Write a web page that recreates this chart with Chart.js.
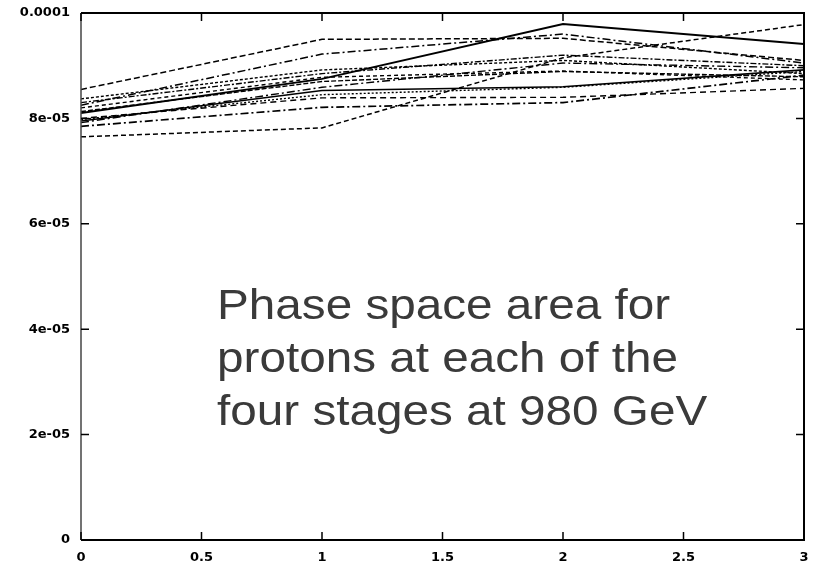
<!DOCTYPE html>
<html>
<head>
<meta charset="utf-8">
<script src="https://cdn.jsdelivr.net/npm/chart.js@4/dist/chart.umd.min.js"></script>
<style>
html,body{margin:0;padding:0;background:#fff;}
#wrap{width:825px;height:564px;position:relative;}
</style>
</head>
<body>
<div id="wrap"><canvas id="c" width="825" height="564"></canvas></div>
<script>
// x positions (stages)
const stages = [0, 1, 2, 3];
// tick labels
const xTickLabels = ["0", "0.5", "1", "1.5", "2", "2.5", "3"];
const yTickLabels = ["0", "2e-05", "4e-05", "6e-05", "8e-05", "0.0001"];
// series values (phase space area)
const s1 = [8.55e-5, 9.50e-5, 9.52e-5, 9.10e-5];
const s2 = [8.25e-5, 9.22e-5, 9.60e-5, 9.05e-5];
const s3 = [8.10e-5, 8.75e-5, 9.79e-5, 9.41e-5];
const s4 = [7.65e-5, 7.82e-5, 9.15e-5, 9.78e-5];
const s5 = [7.95e-5, 8.53e-5, 8.60e-5, 8.92e-5];
const s6 = [7.85e-5, 8.21e-5, 8.30e-5, 8.82e-5];
const s7 = [8.00e-5, 8.39e-5, 8.40e-5, 8.57e-5];
const s8 = [8.20e-5, 8.78e-5, 8.90e-5, 8.73e-5];
const s9 = [8.37e-5, 8.92e-5, 9.10e-5, 8.85e-5];
const s10 = [8.30e-5, 8.85e-5, 9.20e-5, 9.00e-5];
const s11 = [7.92e-5, 8.59e-5, 9.05e-5, 8.96e-5];
const s12 = [8.13e-5, 8.70e-5, 8.89e-5, 8.79e-5];
const s13 = [7.98e-5, 8.45e-5, 8.59e-5, 8.89e-5];

const seriesList = [s1, s2, s3, s4, s5, s6, s7, s8, s9, s10, s11, s12, s13];
const dashes = [[6,3],[8,3,2,3],[],[5,3],[],[8,3,2,3],[6,4],[4,3],[3,2],[6,2,2,2],[8,3,2,3],[5,2],[2,2]];
const widths = [1.5,1.5,2,1.5,1.6,1.7,1.4,1.4,1.4,1.4,1.4,1.4,1.4];

const datasets = seriesList.map((s, i) => ({
  label: 'series ' + (i + 1),
  data: stages.map((x, j) => ({x: x, y: s[j]})),
  borderColor: '#000',
  backgroundColor: '#000',
  borderWidth: widths[i],
  borderDash: dashes[i],
  pointRadius: 0,
  tension: 0,
  fill: false
}));

const framePlugin = {
  id: 'frame',
  afterDatasetsDraw(chart) {
    const ctx = chart.ctx;
    const a = chart.chartArea;
    const xs = chart.scales.x, ys = chart.scales.y;
    ctx.save();
    ctx.setLineDash([]);
    ctx.strokeStyle = '#000';
    ctx.lineWidth = 2;
    ctx.beginPath();
    ctx.moveTo(a.left, a.top); ctx.lineTo(a.right, a.top);
    ctx.lineTo(a.right, a.bottom); ctx.lineTo(a.left, a.bottom);
    ctx.stroke();
    ctx.strokeStyle = '#444';
    ctx.lineWidth = 1.5;
    ctx.beginPath();
    ctx.moveTo(a.left, a.top); ctx.lineTo(a.left, a.bottom);
    ctx.stroke();
    ctx.strokeStyle = '#000';
    ctx.lineWidth = 1.5;
    const tl = 8;
    ctx.beginPath();
    xs.ticks.forEach(t => {
      const px = xs.getPixelForValue(t.value);
      ctx.moveTo(px, a.bottom); ctx.lineTo(px, a.bottom - tl);
      ctx.moveTo(px, a.top); ctx.lineTo(px, a.top + tl);
    });
    ys.ticks.forEach(t => {
      const py = ys.getPixelForValue(t.value);
      ctx.moveTo(a.left, py); ctx.lineTo(a.left + tl, py);
      ctx.moveTo(a.right, py); ctx.lineTo(a.right - tl, py);
    });
    ctx.stroke();
    // annotation text
    ctx.fillStyle = '#3a3a3a';
    ctx.font = '42px "Liberation Sans", Arial, sans-serif';
    ctx.textBaseline = 'alphabetic';
    ctx.textAlign = 'left';
    const lines = ['Phase space area for', 'protons at each of the', 'four stages at 980 GeV'];
    ctx.translate(217, 0);
    ctx.scale(1.135, 1);
    lines.forEach((l, i) => ctx.fillText(l, 0, 319 + i * 53));
    ctx.restore();
  }
};

new Chart(document.getElementById('c'), {
  type: 'line',
  data: { datasets },
  options: {
    responsive: false,
    animation: false,
    layout: { padding: { left: 0, right: 21, top: 13, bottom: 0 } },
    plugins: { legend: { display: false }, tooltip: { enabled: false } },
    scales: {
      x: {
        type: 'linear', min: 0, max: 3,
        grid: { display: false, drawTicks: false },
        border: { display: false },
        ticks: {
          stepSize: 0.5, padding: 10, maxRotation: 0,
          color: '#000', font: { family: 'DejaVu Sans', weight: 'bold', size: 13 },
          callback: (v, i) => xTickLabels[i]
        },
        afterFit(s) { s.height = 24; }
      },
      y: {
        type: 'linear', min: 0, max: 0.0001,
        grid: { display: false, drawTicks: false },
        border: { display: false },
        ticks: {
          stepSize: 0.00002, padding: 11,
          color: '#000', font: { family: 'DejaVu Sans', weight: 'bold', size: 13 },
          callback: (v, i) => yTickLabels[i]
        },
        afterFit(s) { s.width = 81; s.paddingTop = 0; s.paddingBottom = 0; }
      }
    }
  },
  plugins: [framePlugin]
});
</script>
</body>
</html>
